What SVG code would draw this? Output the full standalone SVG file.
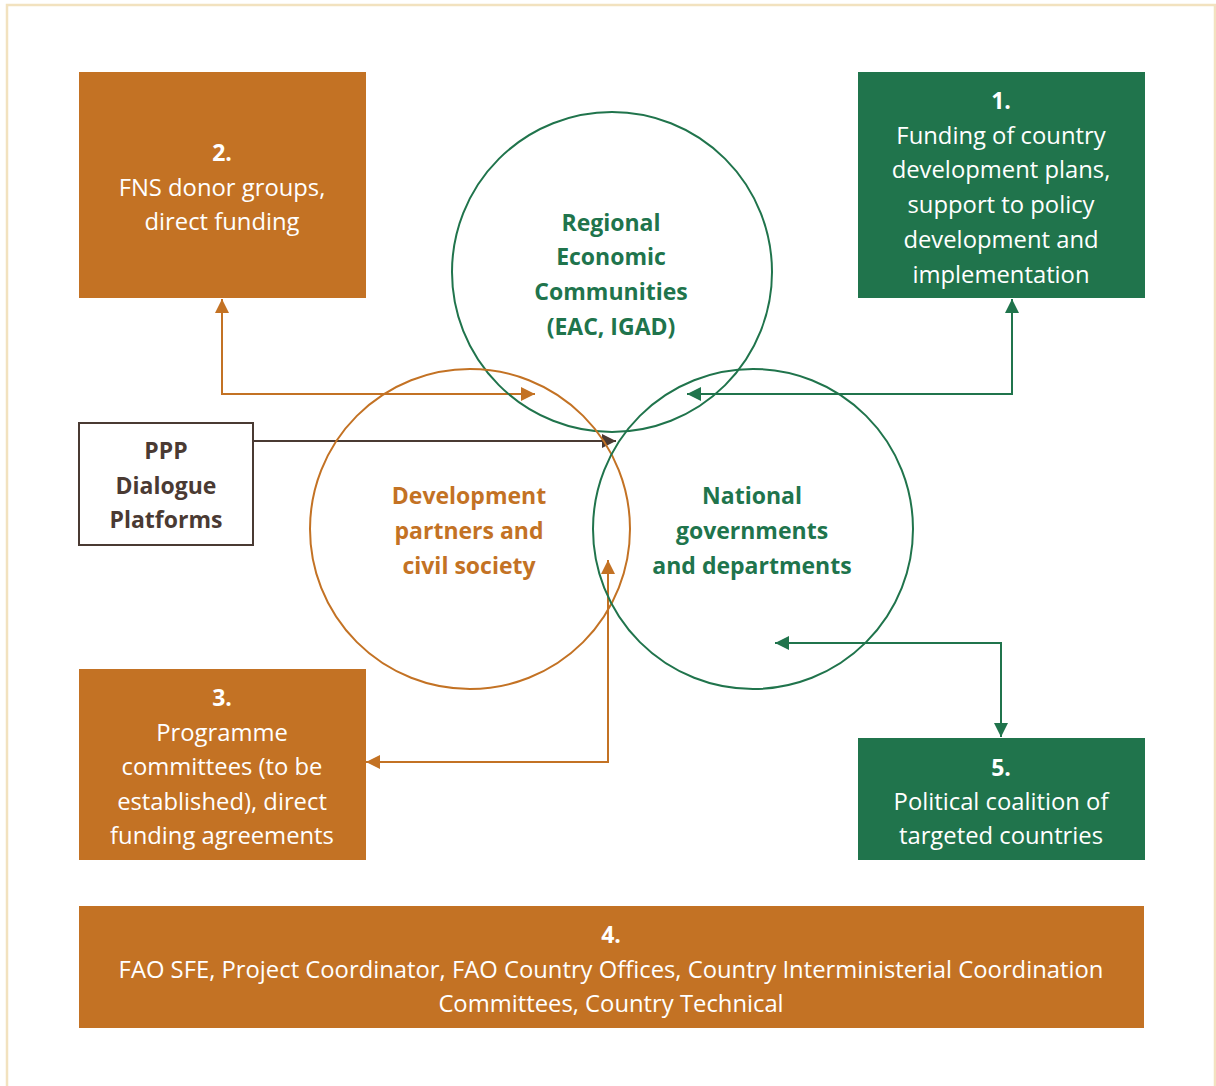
<svg xmlns="http://www.w3.org/2000/svg" width="1216" height="1086" viewBox="0 0 1216 1086">
  <style>
    .frame { fill: #ffffff; stroke: #f2e2bf; stroke-width: 2.5; }
    .box-o { fill: #c37224; }
    .box-g { fill: #20744c; }
    .box-p { fill: #ffffff; stroke: #4a3a33; stroke-width: 2; }
    .ring-o { fill: none; stroke: #c37224; stroke-width: 2; }
    .ring-g { fill: none; stroke: #20744c; stroke-width: 2; }
    .link { fill: none; stroke-width: 2; }
    .t { font-family: "Open Sans", "Noto Sans", "DejaVu Sans", sans-serif; font-size: 23.8px; text-anchor: middle; }
    .w { fill: #ffffff; }
    .b { font-weight: bold; font-size: 23px; }
    .go { fill: #c37224; }
    .gg { fill: #20744c; }
    .gp { fill: #4a3a33; }
  </style>
  <defs>
    <marker id="ah-o" markerUnits="userSpaceOnUse" markerWidth="16" markerHeight="16" refX="14" refY="7" orient="auto-start-reverse">
      <path d="M0,0 L14,7 L0,14 z" fill="#c37224"/>
    </marker>
    <marker id="ah-g" markerUnits="userSpaceOnUse" markerWidth="16" markerHeight="16" refX="14" refY="7" orient="auto-start-reverse">
      <path d="M0,0 L14,7 L0,14 z" fill="#20744c"/>
    </marker>
    <marker id="ah-p" markerUnits="userSpaceOnUse" markerWidth="16" markerHeight="16" refX="14" refY="7" orient="auto-start-reverse">
      <path d="M0,0 L14,7 L0,14 z" fill="#4a3a33"/>
    </marker>
  </defs>

  <!-- page frame -->
  <rect class="frame" x="7" y="5" width="1208" height="1100"/>

  <!-- connectors -->
  <g id="connectors">
    <path class="link" stroke="#c37224" d="M222,299 V394 H535" marker-start="url(#ah-o)" marker-end="url(#ah-o)"/>
    <path class="link" stroke="#20744c" d="M1012,299 V394 H687" marker-start="url(#ah-g)" marker-end="url(#ah-g)"/>
    <path class="link" stroke="#4a3a33" d="M253,441 H616" marker-end="url(#ah-p)"/>
    <path class="link" stroke="#c37224" d="M608,560 V762 H366" marker-start="url(#ah-o)" marker-end="url(#ah-o)"/>
    <path class="link" stroke="#20744c" d="M775,643 H1001 V737" marker-start="url(#ah-g)" marker-end="url(#ah-g)"/>
  </g>

  <!-- overlapping stakeholder circles -->
  <g id="rec">
    <circle class="ring-g" cx="612" cy="272" r="160"/>
    <text class="t b gg"><tspan x="611" y="231">Regional</tspan><tspan x="611" y="265">Economic</tspan><tspan x="611" y="300">Communities</tspan><tspan x="611" y="335">(EAC, IGAD)</tspan></text>
  </g>
  <g id="dev-partners">
    <circle class="ring-o" cx="470" cy="529" r="160"/>
    <text class="t b go"><tspan x="469" y="504">Development</tspan><tspan x="469" y="539">partners and</tspan><tspan x="469" y="574">civil society</tspan></text>
  </g>
  <g id="national">
    <circle class="ring-g" cx="753" cy="529" r="160"/>
    <text class="t b gg"><tspan x="752" y="504">National</tspan><tspan x="752" y="539">governments</tspan><tspan x="752" y="574">and departments</tspan></text>
  </g>

  <!-- boxes -->
  <g id="box2">
    <rect class="box-o" x="79" y="72" width="287" height="226"/>
    <text class="t w"><tspan class="b" x="222" y="161">2.</tspan><tspan x="222" y="196">FNS donor groups,</tspan><tspan x="222" y="230">direct funding</tspan></text>
  </g>
  <g id="box1">
    <rect class="box-g" x="858" y="72" width="287" height="226"/>
    <text class="t w"><tspan class="b" x="1001" y="109">1.</tspan><tspan x="1001" y="144">Funding of country</tspan><tspan x="1001" y="178">development plans,</tspan><tspan x="1001" y="213">support to policy</tspan><tspan x="1001" y="248">development and</tspan><tspan x="1001" y="283">implementation</tspan></text>
  </g>
  <g id="ppp">
    <rect class="box-p" x="79" y="423" width="174" height="122"/>
    <text class="t b gp"><tspan x="166" y="459">PPP</tspan><tspan x="166" y="494">Dialogue</tspan><tspan x="166" y="528">Platforms</tspan></text>
  </g>
  <g id="box3">
    <rect class="box-o" x="79" y="669" width="287" height="191"/>
    <text class="t w"><tspan class="b" x="222" y="706">3.</tspan><tspan x="222" y="741">Programme</tspan><tspan x="222" y="775">committees (to be</tspan><tspan x="222" y="810">established), direct</tspan><tspan x="222" y="844">funding agreements</tspan></text>
  </g>
  <g id="box5">
    <rect class="box-g" x="858" y="738" width="287" height="122"/>
    <text class="t w"><tspan class="b" x="1001" y="776">5.</tspan><tspan x="1001" y="810">Political coalition of</tspan><tspan x="1001" y="844">targeted countries</tspan></text>
  </g>
  <g id="box4">
    <rect class="box-o" x="79" y="906" width="1065" height="122"/>
    <text class="t w"><tspan class="b" x="611" y="943">4.</tspan><tspan x="611" y="978">FAO SFE, Project Coordinator, FAO Country Offices, Country Interministerial Coordination</tspan><tspan x="611" y="1012">Committees, Country Technical</tspan></text>
  </g>
</svg>
